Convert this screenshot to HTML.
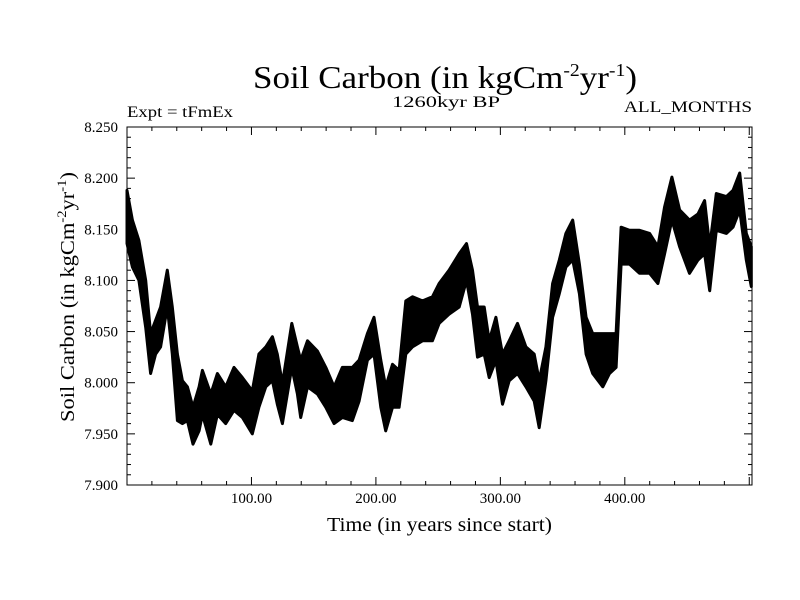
<!DOCTYPE html>
<html><head><meta charset="utf-8"><style>
html,body{margin:0;padding:0;background:#fff;}
svg{display:block;font-family:"Liberation Serif",serif;}
</style></head><body>
<svg id="chart" width="800" height="600" viewBox="0 0 800 600" xmlns="http://www.w3.org/2000/svg">
<rect x="0" y="0" width="800" height="600" fill="#fff"/>
<text x="253" y="88" font-size="32" textLength="384" lengthAdjust="spacingAndGlyphs">Soil Carbon (in kgCm<tspan dy="-12" font-size="18">-2</tspan><tspan dy="12">yr</tspan><tspan dy="-12" font-size="18">-1</tspan><tspan dy="12">)</tspan></text>
<text x="392" y="107" font-size="16" textLength="108" lengthAdjust="spacingAndGlyphs">1260kyr BP</text>
<text x="127" y="117" font-size="16" textLength="106" lengthAdjust="spacingAndGlyphs">Expt = tFmEx</text>
<text x="624" y="112" font-size="16" textLength="128" lengthAdjust="spacingAndGlyphs">ALL_MONTHS</text>
<text x="327" y="531" font-size="20" textLength="225" lengthAdjust="spacingAndGlyphs">Time (in years since start)</text>
<text transform="translate(74,422) rotate(-90)" x="0" y="0" font-size="20" textLength="250" lengthAdjust="spacingAndGlyphs">Soil Carbon (in kgCm<tspan dy="-8" font-size="13">-2</tspan><tspan dy="8">yr</tspan><tspan dy="-8" font-size="13">-1</tspan><tspan dy="8">)</tspan></text>
<g id="marks"></g>
<g id="axes"></g>
</svg>
<script>
const years = [0,4.3,9.6,15,19,23,27,32.4,36.4,40.5,44.5,48.5,53,57.9,60.6,67.3,72.6,79.3,86,92.7,100.7,106,111.5,116.8,120.8,124.9,132.4,136.9,139.6,145,153,159.7,166.4,173,181,186.5,193.2,198.5,203.9,207.9,213.3,218.6,224,229.4,237.4,245.4,250.8,258.8,266.9,272.8,277.6,281.6,287,291,296.4,301.7,307.1,313.8,320.5,327.2,331.2,336.6,342,347.4,352.7,358.1,363.5,368.9,374.2,382.3,387.7,393,397,403.8,411.8,419.9,426.6,432,437.8,444,452,458.8,464.1,468.2,473.5,481.6,486.9,492.3,497.6,501.6];
const highValues = [8.188,8.159,8.139,8.100,8.048,8.061,8.074,8.110,8.074,8.028,8.002,7.996,7.976,7.996,8.012,7.989,8.009,7.996,8.015,8.005,7.992,8.028,8.035,8.045,8.028,7.999,8.058,8.035,8.022,8.041,8.031,8.015,7.996,8.015,8.015,8.022,8.048,8.064,8.022,7.996,8.018,8.012,8.080,8.084,8.080,8.084,8.097,8.110,8.126,8.136,8.110,8.074,8.074,8.041,8.064,8.028,8.041,8.058,8.035,8.028,8.002,8.035,8.097,8.120,8.146,8.159,8.116,8.064,8.048,8.048,8.048,8.048,8.152,8.149,8.149,8.146,8.133,8.172,8.201,8.169,8.159,8.165,8.178,8.133,8.185,8.182,8.188,8.205,8.146,8.133];
const lowValues = [8.136,8.113,8.100,8.054,8.009,8.028,8.035,8.074,8.028,7.963,7.960,7.963,7.940,7.953,7.969,7.940,7.969,7.960,7.973,7.966,7.950,7.976,7.996,8.002,7.979,7.960,8.015,7.989,7.966,7.996,7.989,7.976,7.960,7.966,7.963,7.982,8.022,8.028,7.976,7.953,7.976,7.976,8.028,8.035,8.041,8.041,8.058,8.067,8.074,8.100,8.067,8.025,8.028,8.005,8.022,7.979,8.002,8.009,7.996,7.982,7.956,8.002,8.064,8.087,8.113,8.120,8.087,8.028,8.009,7.996,8.009,8.015,8.116,8.116,8.107,8.107,8.097,8.126,8.159,8.133,8.107,8.120,8.126,8.090,8.149,8.146,8.152,8.169,8.120,8.094];
const xTickValues = [100,200,300,400];
const xTickLabels = ["100.00","200.00","300.00","400.00"];
const yTickValues = [7.90,7.95,8.00,8.05,8.10,8.15,8.20,8.25];
const yTickLabels = ["7.900","7.950","8.000","8.050","8.100","8.150","8.200","8.250"];

const L=127,R=752,T=127,B=485;
const X0=0,X1=502.2,Y0=7.9,Y1=8.25;
function xs(v){return L+(v-X0)/(X1-X0)*(R-L);}
function ys(v){return B-(v-Y0)/(Y1-Y0)*(B-T);}
const NS="http://www.w3.org/2000/svg";
function mk(tag,attrs,parent){const e=document.createElementNS(NS,tag);for(const k in attrs)e.setAttribute(k,attrs[k]);parent.appendChild(e);return e;}
const marks=document.getElementById('marks');
const axes=document.getElementById('axes');

let pts=[];
for(let i=0;i<years.length;i++)pts.push(xs(years[i]).toFixed(1)+','+ys(highValues[i]).toFixed(1));
for(let i=years.length-1;i>=0;i--)pts.push(xs(years[i]).toFixed(1)+','+ys(lowValues[i]).toFixed(1));
const band=mk('polygon',{points:pts.join(' '),fill:'#000',stroke:'#000','stroke-width':'3','stroke-linejoin':'round'},marks);



const frame=mk('rect',{x:L,y:T,width:R-L,height:B-T,fill:'none',stroke:'#000','stroke-width':'1'},axes);



for(let v=20;v<X1;v+=20){
  const major=(v%100===0);const len=major?8:4;const x=xs(v);
  const t1=mk('line',{x1:x,y1:B,x2:x,y2:B-len,stroke:'#000','stroke-width':'1'},axes);
  
  
  const t2=mk('line',{x1:x,y1:T,x2:x,y2:T+len,stroke:'#000','stroke-width':'1'},axes);
  
  
}
for(let i=0;i<xTickValues.length;i++){
  const tx=mk('text',{x:xs(xTickValues[i]),y:503,'font-size':'15','text-anchor':'middle'},axes);
  tx.textContent=xTickLabels[i];
  
  
}
for(let k=1;k<35;k++){
  const v=Y0+k*0.01;const major=(k%5===0);const len=major?8:4;const y=ys(v);
  const t1=mk('line',{x1:L,y1:y,x2:L+len,y2:y,stroke:'#000','stroke-width':'1'},axes);
  
  
  const t2=mk('line',{x1:R,y1:y,x2:R-len,y2:y,stroke:'#000','stroke-width':'1'},axes);
  
  
}
for(let i=0;i<yTickValues.length;i++){
  const ty=mk('text',{x:118,y:ys(yTickValues[i])+5,'font-size':'15','text-anchor':'end'},axes);
  ty.textContent=yTickLabels[i];
  
  
}
</script>
</body></html>
